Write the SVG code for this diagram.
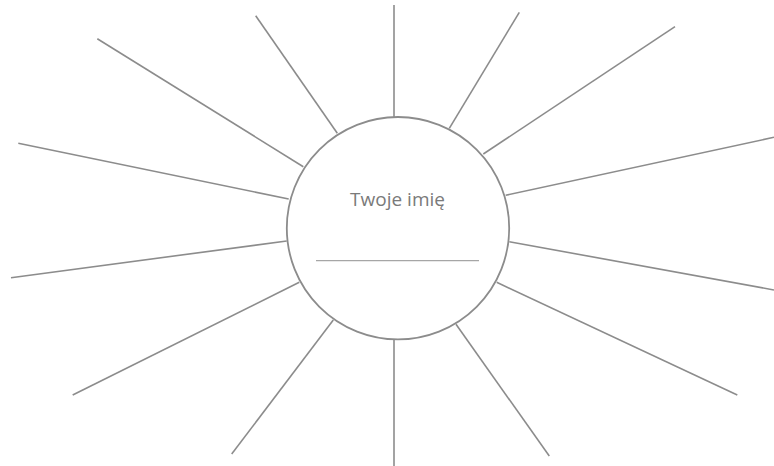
<svg xmlns="http://www.w3.org/2000/svg" width="774" height="466" viewBox="0 0 774 466">
<style>
.spoke{stroke:#8c8c8c;stroke-width:1.6;fill:none;stroke-linecap:butt}
.hub{fill:#fff;stroke:#8c8c8c;stroke-width:1.8}
.lbl{font-family:"Open Sans","Noto Sans","Liberation Sans",sans-serif;font-size:19px;fill:#7a7a7a}
.blank{stroke:#a6a6a6;stroke-width:1.3}
</style>
<rect width="774" height="466" fill="#fff"/>
<g id="connectors">
<line class="spoke" x1="394" y1="5" x2="394" y2="117"/>
<line class="spoke" x1="255.7" y1="15.7" x2="337.3" y2="133.3"/>
<line class="spoke" x1="97.3" y1="38.7" x2="303.3" y2="166.7"/>
<line class="spoke" x1="18.3" y1="143.3" x2="288.7" y2="199"/>
<line class="spoke" x1="519.3" y1="12.3" x2="449.3" y2="128.3"/>
<line class="spoke" x1="675" y1="26.7" x2="483.3" y2="154"/>
<line class="spoke" x1="774" y1="137.3" x2="505.7" y2="195.3"/>
<line class="spoke" x1="11" y1="277.7" x2="286.7" y2="241"/>
<line class="spoke" x1="72.7" y1="395" x2="299.3" y2="282.3"/>
<line class="spoke" x1="231.7" y1="454" x2="333.3" y2="320"/>
<line class="spoke" x1="509.3" y1="241.7" x2="774" y2="290"/>
<line class="spoke" x1="496.7" y1="282.3" x2="737.3" y2="395"/>
<line class="spoke" x1="456" y1="324.3" x2="549.3" y2="456"/>
<line class="spoke" x1="394" y1="339.5" x2="394" y2="466"/>
</g>
<g id="hub">
<circle class="hub" cx="398" cy="228.2" r="111.2"/>
<text class="lbl" x="397.5" y="206" text-anchor="middle">Twoje imię</text>
<line class="blank" x1="316" y1="260.7" x2="479" y2="260.7"/>
</g>
</svg>
